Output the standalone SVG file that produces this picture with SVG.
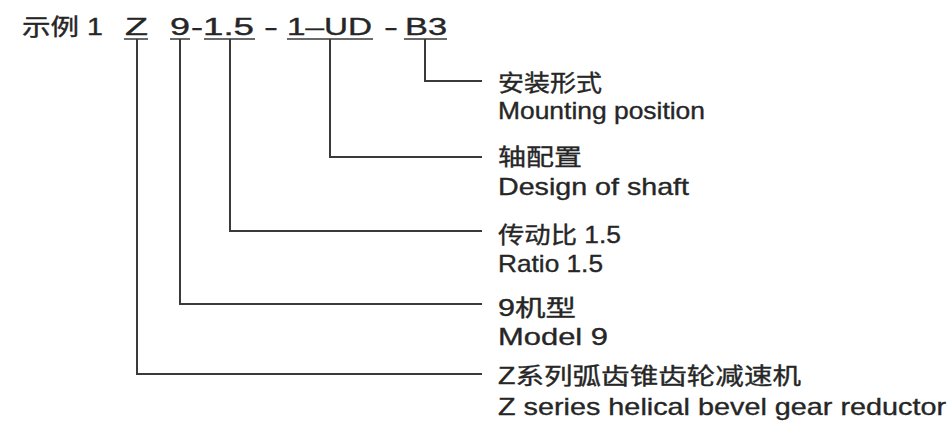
<svg xmlns="http://www.w3.org/2000/svg" width="949" height="424" viewBox="0 0 949 424">
<style>
text{font-family:"Liberation Sans","Noto Sans CJK SC",sans-serif;fill:#262626;stroke:#262626;stroke-width:0.35;}
.t{font-size:23px;}
.cn{font-size:23px;}
.en{font-size:24px;}
.ul{stroke:#3a3a3a;stroke-width:1.6;fill:none;}
.conn{stroke:#3a3a3a;stroke-width:2;fill:none;}
</style>
<rect width="949" height="424" fill="#ffffff"/>
<g id="title">
<text class="t" x="22" y="35" textLength="81" lengthAdjust="spacingAndGlyphs">示例 1</text>
<text class="t" x="125" y="35" textLength="23" lengthAdjust="spacingAndGlyphs">Z</text>
<text class="t" x="170" y="35" textLength="20" lengthAdjust="spacingAndGlyphs">9</text>
<text class="t" x="191" y="35" textLength="12" lengthAdjust="spacingAndGlyphs">-</text>
<text class="t" x="203" y="35" textLength="51" lengthAdjust="spacingAndGlyphs">1.5</text>
<text class="t" x="264" y="35" textLength="14" lengthAdjust="spacingAndGlyphs">-</text>
<text class="t" x="287" y="35" textLength="85" lengthAdjust="spacingAndGlyphs">1–UD</text>
<text class="t" x="384" y="35" textLength="14" lengthAdjust="spacingAndGlyphs">-</text>
<text class="t" x="405" y="35" textLength="42" lengthAdjust="spacingAndGlyphs">B3</text>
<path class="ul" d="M124 39H148M170 39H190M204 39H255M287 39H373M404 39H447"/>
</g>
<g id="connectors">
<path class="conn" d="M425 39V81H482"/>
<path class="conn" d="M330 39V157H482"/>
<path class="conn" d="M230 39V231H482"/>
<path class="conn" d="M180 39V304H482"/>
<path class="conn" d="M137 39V374H482"/>
</g>
<g id="mounting">
<text class="cn" x="498" y="91" textLength="104" lengthAdjust="spacingAndGlyphs">安装形式</text>
<text class="en" x="498" y="119" textLength="207" lengthAdjust="spacingAndGlyphs">Mounting position</text>
</g>
<g id="shaft">
<text class="cn" x="498" y="165" textLength="84" lengthAdjust="spacingAndGlyphs">轴配置</text>
<text class="en" x="498" y="195" textLength="191" lengthAdjust="spacingAndGlyphs">Design of shaft</text>
</g>
<g id="ratio">
<text class="cn" x="498" y="243" textLength="123" lengthAdjust="spacingAndGlyphs">传动比 1.5</text>
<text class="en" x="498" y="272" textLength="105" lengthAdjust="spacingAndGlyphs">Ratio 1.5</text>
</g>
<g id="model">
<text class="cn" x="498" y="316" textLength="78" lengthAdjust="spacingAndGlyphs">9机型</text>
<text class="en" x="498" y="345" textLength="110" lengthAdjust="spacingAndGlyphs">Model 9</text>
</g>
<g id="series">
<text class="cn" x="498" y="384" textLength="303" lengthAdjust="spacingAndGlyphs">Z系列弧齿锥齿轮减速机</text>
<text class="en" x="498" y="415" textLength="448" lengthAdjust="spacingAndGlyphs">Z series helical bevel gear reductor</text>
</g>
</svg>
